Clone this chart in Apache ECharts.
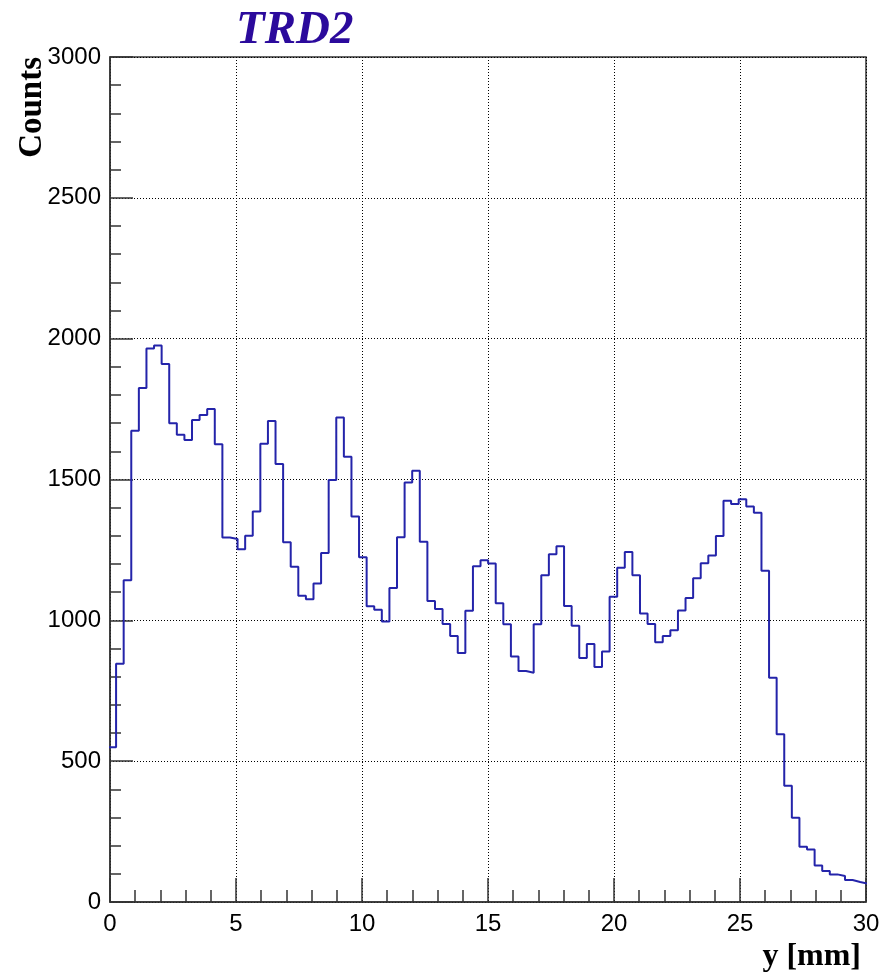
<!DOCTYPE html>
<html>
<head>
<meta charset="utf-8">
<script src="https://cdn.jsdelivr.net/npm/echarts@6/dist/echarts.min.js"></script>
<style>
  html, body { margin: 0; padding: 0; background: #fff; }
  #chart { width: 891px; height: 974px; }
</style>
</head>
<body>
<div id="chart"></div>
<script>
// Histogram binning: 100 equal bins
const binLow = -0.06;
const binHigh = 30.07;
const counts = [
  549, 846, 1142, 1673, 1825, 1965, 1976, 1910, 1700, 1659,
  1640, 1711, 1729, 1750, 1625, 1294, 1289, 1252, 1300, 1386,
  1627, 1708, 1555, 1277, 1190, 1087, 1075, 1131, 1239, 1498,
  1720, 1581, 1369, 1224, 1050, 1038, 996, 1115, 1295, 1489,
  1531, 1279, 1069, 1040, 987, 944, 884, 1034, 1192, 1213,
  1202, 1061, 986, 872, 820, 814, 986, 1160, 1235, 1263,
  1051, 981, 866, 916, 834, 889, 1084, 1187, 1243, 1160,
  1024, 987, 922, 944, 965, 1035, 1079, 1149, 1203, 1230,
  1299, 1425, 1413, 1430, 1404, 1382, 1176, 796, 596, 413,
  299, 196, 186, 130, 110, 98, 92, 78, 71, 65
];
const xTicks = [0, 5, 10, 15, 20, 25, 30];
const yTicks = [0, 500, 1000, 1500, 2000, 2500, 3000];
const titleText = 'TRD2';
const xTitle = 'y [mm]';
const yTitle = 'Counts';

// Step outline of the histogram: each bin contributes its left and right edge at its count
const nBins = counts.length;
const width = (binHigh - binLow) / nBins;
const outline = [];
counts.forEach((c, k) => {
  outline.push([binLow + k * width, c]);
  outline.push([binLow + (k + 1) * width, c]);
});

const chart = echarts.init(document.getElementById('chart'), null, { renderer: 'canvas' });
const labelFont = 'Liberation Sans';
const dotted = { color: '#000', width: 1, type: [1, 2] };
const plain = v => String(v);

chart.setOption({
  animation: false,
  backgroundColor: '#fff',
  title: {
    text: titleText,
    left: 231,
    top: 2,
    textStyle: {
      fontFamily: 'Liberation Serif',
      fontStyle: 'italic',
      fontWeight: 'bold',
      fontSize: 47,
      color: '#2b0a9c'
    }
  },
  grid: {
    left: 110, right: 25, top: 57, bottom: 72,
    show: true, borderColor: '#333', borderWidth: 1.5, backgroundColor: 'transparent'
  },
  xAxis: {
    type: 'value',
    min: xTicks[0], max: xTicks[xTicks.length - 1], interval: 5,
    axisLine: { show: true, onZero: false, lineStyle: { color: '#333', width: 1.5 } },
    axisTick: { show: true, inside: true, length: 24, lineStyle: { color: '#333', width: 1.5 } },
    minorTick: { show: true, splitNumber: 5, length: 12, lineStyle: { color: '#333', width: 1.5 } },
    axisLabel: { color: '#000', fontFamily: labelFont, fontSize: 24, margin: 10, formatter: plain },
    splitLine: { show: true, lineStyle: dotted }
  },
  yAxis: {
    type: 'value',
    min: yTicks[0], max: yTicks[yTicks.length - 1], interval: 500,
    axisLine: { show: true, lineStyle: { color: '#333', width: 1.5 } },
    axisTick: { show: true, inside: true, length: 23, lineStyle: { color: '#333', width: 1.5 } },
    minorTick: { show: true, splitNumber: 5, length: 11, lineStyle: { color: '#333', width: 1.5 } },
    axisLabel: { color: '#000', fontFamily: labelFont, fontSize: 24, margin: 9, formatter: plain },
    splitLine: { show: true, lineStyle: dotted }
  },
  graphic: [
    {
      type: 'text', x: 861, y: 957,
      style: { text: xTitle, font: 'bold 32px "Liberation Serif"', fill: '#000', textAlign: 'right', textVerticalAlign: 'middle' }
    },
    {
      type: 'text', x: 32, y: 57, rotation: Math.PI / 2,
      style: { text: yTitle, font: 'bold 33px "Liberation Serif"', fill: '#000', textAlign: 'right', textVerticalAlign: 'middle' }
    }
  ],
  series: [{
    type: 'line',
    data: outline,
    showSymbol: false,
    clip: true,
    lineStyle: { color: '#2424aa', width: 2 },
    z: 5
  }]
});
</script>
</body>
</html>
